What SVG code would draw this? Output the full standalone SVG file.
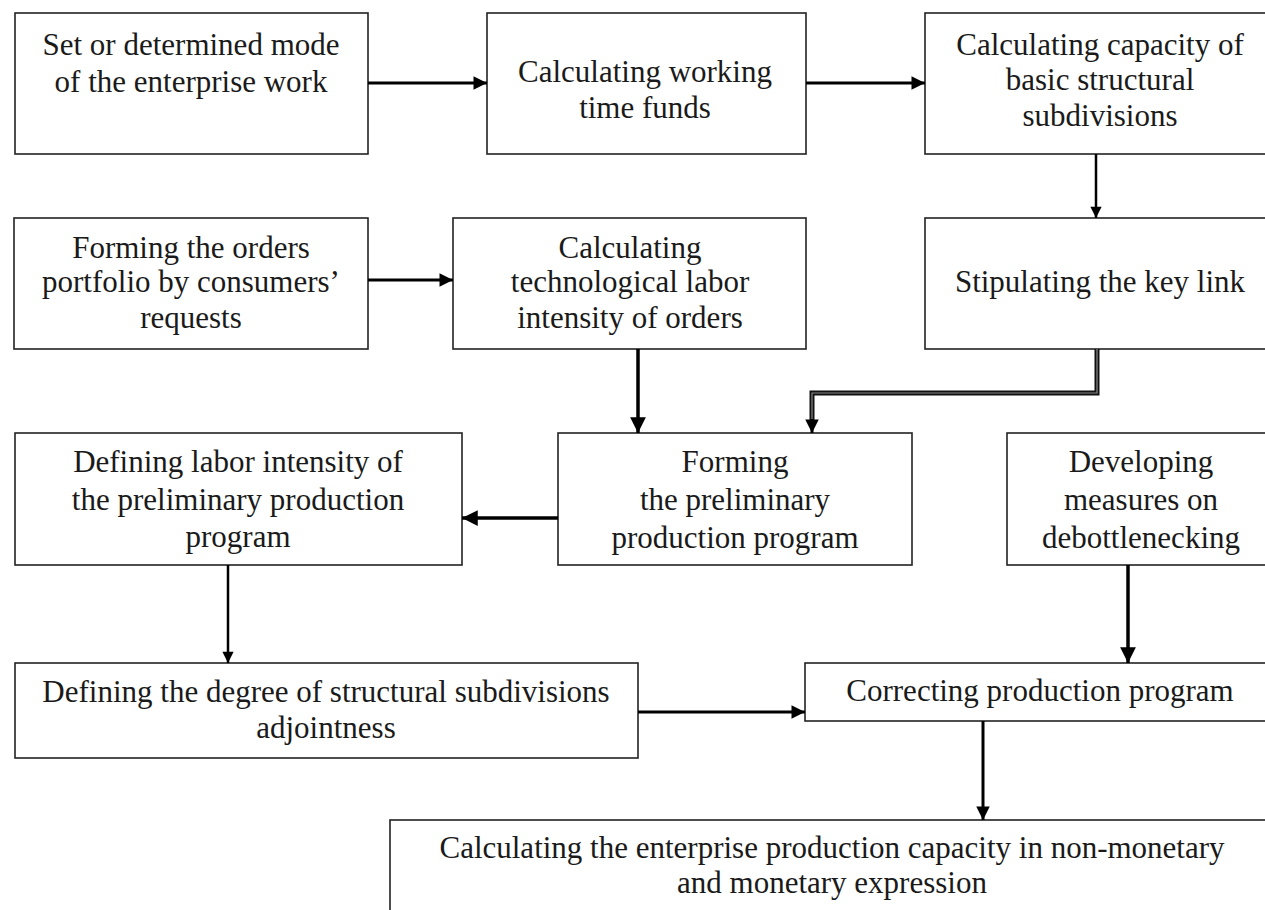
<svg xmlns="http://www.w3.org/2000/svg" width="1265" height="910" viewBox="0 0 1265 910">
<defs>
<style>
.box{fill:#fff;stroke:#222;stroke-width:1.6}
.t{font-family:"Liberation Serif","Times New Roman",serif;font-size:31px;fill:#1a1a1a;text-anchor:middle}
.c{fill:none;stroke:#000;stroke-width:3}
</style>
<marker id="ah" viewBox="0 0 10 10" refX="10" refY="5" markerWidth="5" markerHeight="4.5" orient="auto" markerUnits="strokeWidth">
<path d="M0,0 L10,5 L0,10 z" fill="#000"/>
</marker>
</defs>
<rect width="1265" height="910" fill="#fff"/>
<g id="n1"><rect class="box" x="15" y="13" width="353" height="141"/>
<text class="t" x="191" y="55">Set or determined mode</text>
<text class="t" x="191" y="92">of the enterprise work</text></g>
<g id="n2"><rect class="box" x="487" y="13" width="319" height="141"/>
<text class="t" x="645" y="82">Calculating working</text>
<text class="t" x="645" y="118">time funds</text></g>
<g id="n3"><rect class="box" x="925" y="13" width="350" height="141"/>
<text class="t" x="1100" y="55">Calculating capacity of</text>
<text class="t" x="1100" y="90">basic structural</text>
<text class="t" x="1100" y="126">subdivisions</text></g>
<g id="n4"><rect class="box" x="14" y="218" width="354" height="131"/>
<text class="t" x="191" y="258">Forming the orders</text>
<text class="t" x="191" y="292">portfolio by consumers’</text>
<text class="t" x="191" y="328">requests</text></g>
<g id="n5"><rect class="box" x="453" y="218" width="353" height="131"/>
<text class="t" x="630" y="258">Calculating</text>
<text class="t" x="630" y="292">technological labor</text>
<text class="t" x="630" y="328">intensity of orders</text></g>
<g id="n6"><rect class="box" x="925" y="218" width="350" height="131"/>
<text class="t" x="1100" y="292">Stipulating the key link</text></g>
<g id="n7"><rect class="box" x="558" y="433" width="354" height="132"/>
<text class="t" x="735" y="472">Forming</text>
<text class="t" x="735" y="510">the preliminary</text>
<text class="t" x="735" y="548">production program</text></g>
<g id="n8"><rect class="box" x="15" y="433" width="447" height="132"/>
<text class="t" x="238" y="472">Defining labor intensity of</text>
<text class="t" x="238" y="510">the preliminary production</text>
<text class="t" x="238" y="547">program</text></g>
<g id="n9"><rect class="box" x="1007" y="433" width="268" height="132"/>
<text class="t" x="1141" y="472">Developing</text>
<text class="t" x="1141" y="510">measures on</text>
<text class="t" x="1141" y="548">debottlenecking</text></g>
<g id="n10"><rect class="box" x="15" y="663" width="623" height="95"/>
<text class="t" x="326" y="702">Defining the degree of structural subdivisions</text>
<text class="t" x="326" y="738">adjointness</text></g>
<g id="n11"><rect class="box" x="805" y="663" width="470" height="58"/>
<text class="t" x="1040" y="701">Correcting production program</text></g>
<g id="n12"><rect class="box" x="390" y="820" width="900" height="120"/>
<text class="t" x="832" y="858">Calculating the enterprise production capacity in non-monetary</text>
<text class="t" x="832" y="893">and monetary expression</text></g>
<g id="connectors">
<path class="c" d="M368,83 H487" marker-end="url(#ah)"/>
<path class="c" d="M806,83 H925" marker-end="url(#ah)"/>
<path class="c" style="stroke-width:2.5" d="M1096,154 V218" marker-end="url(#ah)"/>
<path class="c" d="M368,280 H453" marker-end="url(#ah)"/>
<path class="c" style="stroke-width:3.5" d="M638,349 V433" marker-end="url(#ah)"/>
<path fill="none" stroke="#111" stroke-width="5" d="M1097,349 V393 H812 V421"/>
<path fill="none" stroke="#888" stroke-width="1.2" d="M1097,349 V393 H812 V419"/>
<path class="c" d="M812,419 V433" marker-end="url(#ah)"/>
<path class="c" style="stroke-width:3.5" d="M558,518 H462" marker-end="url(#ah)"/>
<path class="c" style="stroke-width:2.5" d="M228,565 V663" marker-end="url(#ah)"/>
<path class="c" style="stroke-width:3.5" d="M1128,565 V663" marker-end="url(#ah)"/>
<path class="c" d="M638,712 H805" marker-end="url(#ah)"/>
<path class="c" style="stroke-width:3" d="M983,721 V820" marker-end="url(#ah)"/>
</g>
</svg>
